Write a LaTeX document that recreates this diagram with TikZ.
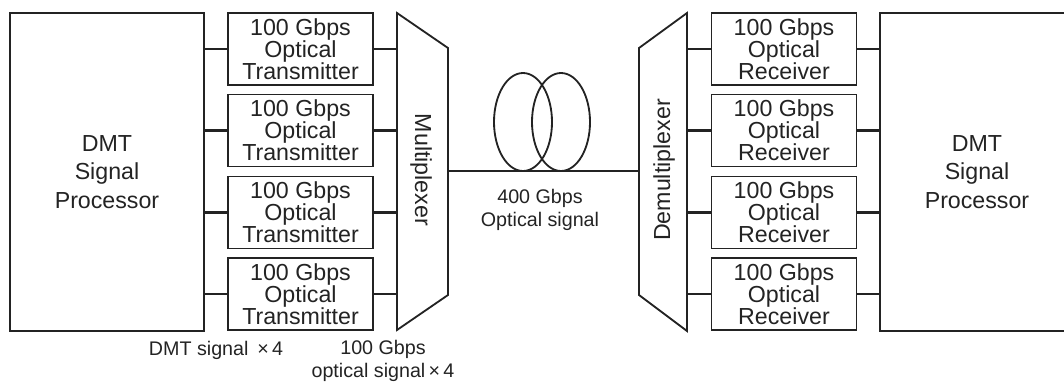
\documentclass[tikz,border=0pt]{standalone}
\usepackage{fontspec}
\setmainfont{Liberation Sans}
\definecolor{ink}{RGB}{35,35,35}
\tikzset{
  unit/.style={draw=ink, line width=1.3pt, text=ink, align=center, inner sep=0pt},
  dspbox/.style={unit, minimum width=4.85cm, minimum height=7.95cm, font=\fontsize{16.5}{20.5}\selectfont},
  trxbox/.style={unit, minimum width=3.625cm, minimum height=1.8cm, font=\fontsize{16.5}{15.6}\selectfont},
  wire/.style={draw=ink, line width=1.7pt},
  lbl/.style={text=ink, align=center, font=\fontsize{14}{16}\selectfont}
}
\begin{document}
\begin{tikzpicture}[x=0.025cm, y=-0.025cm]
    \useasboundingbox (0,0) rectangle (1064,383);
    \node[dspbox] (dspL) at (107,172) {DMT\\Signal\\Processor};
    \node[dspbox] (dspR) at (977,172) {DMT\\Signal\\Processor};
    \draw[unit, line join=miter] (397,13) -- (448,48) -- (448,295) -- (397,330) -- cycle;
    \draw[unit, line join=miter] (687,13) -- (639,48) -- (639,295) -- (687,331) -- cycle;
    \node[text=ink, rotate=-90, font=\fontsize{16.5}{18}\selectfont] (muxtxt) at (421,170) {Multiplexer};
    \node[text=ink, rotate=90, font=\fontsize{16.5}{18}\selectfont] (demuxtxt) at (664,170) {Demultiplexer};
    \coordinate (muxout) at (448,171);
    \coordinate (demuxin) at (639,171);
    \foreach \i/\y in {1/49,2/130.5,3/212.5,4/294} {
        \node[trxbox] (tx\i) at (300.5,\y) {100 Gbps\\Optical\\Transmitter};
        \node[trxbox] (rx\i) at (784,\y) {100 Gbps\\Optical\\Receiver};
        \coordinate (muxin\i) at (397,\y);
        \coordinate (demuxout\i) at (687,\y);
        \draw[wire] (dspL.east |- tx\i) -- (tx\i.west);
        \draw[wire] (tx\i.east) -- (muxin\i);
        \draw[wire] (demuxout\i) -- (rx\i.west);
        \draw[wire] (rx\i.east) -- (dspR.west |- rx\i);
    }
    \draw[wire] (muxout) -- (demuxin);
    \draw[unit] (523,122) ellipse [x radius=29, y radius=49];
    \draw[unit] (561,122) ellipse [x radius=29, y radius=49];
    \node[lbl] (fibre) at (540,210) {400 Gbps\\Optical signal};
    \node[lbl] (dmtsig) at (216,350) {DMT signal\, ×\,4};
    \node[lbl] (optsig) at (383,361) {100 Gbps\\optical signal\,×\,4};
\end{tikzpicture}
\end{document}
